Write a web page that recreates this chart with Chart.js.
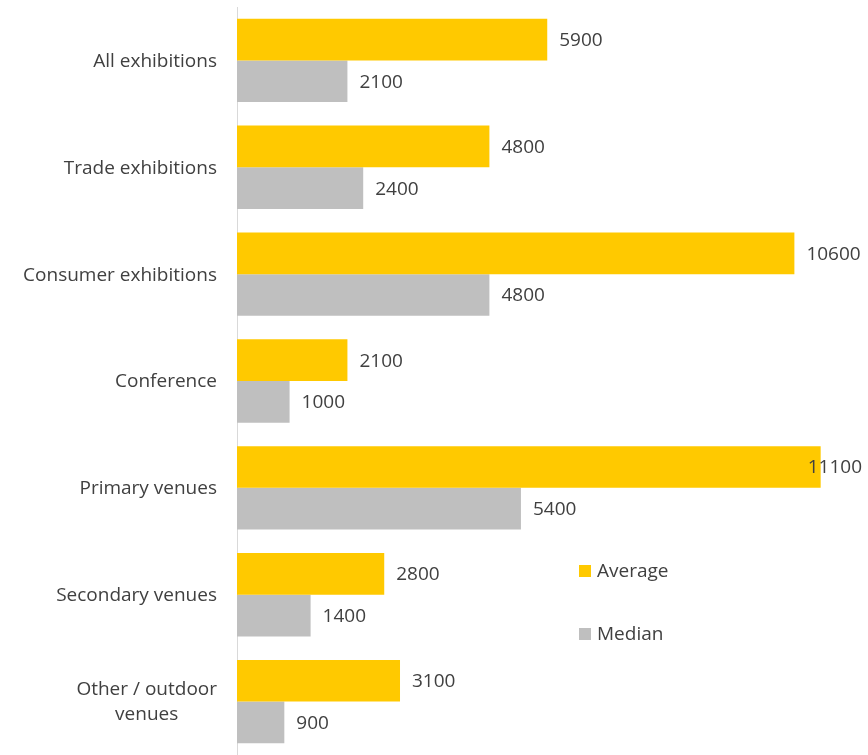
<!DOCTYPE html>
<html>
<head>
<meta charset="utf-8">
<script src="https://cdn.jsdelivr.net/npm/chart.js@4/dist/chart.umd.min.js"></script>
<style>
  html, body { margin: 0; padding: 0; background: #fff; }
  #wrap { position: relative; width: 868px; height: 755px; }
</style>
</head>
<body>
<div id="wrap"><canvas id="grafico"></canvas></div>
<script>
const categorias = [
  'All exhibitions',
  'Trade exhibitions',
  'Consumer exhibitions',
  'Conference',
  'Primary venues',
  'Secondary venues',
  ['Other / outdoor', 'venues'],
];
const valoresMedia = [5900, 4800, 10600, 2100, 11100, 2800, 3100];
const valoresMediana = [2100, 2400, 4800, 1000, 5400, 1400, 900];

const COR_MEDIA = '#FFC900';
const COR_MEDIANA = '#BFBFBF';
const COR_TEXTO = '#404040';
const FONTE = '"Open Sans", "Liberation Sans", sans-serif';
const TAM_FONTE = 19;

// rotulos de valor ao lado de cada barra; se nao couber, encosta na borda
const pluginRotulos = {
  id: 'rotulos',
  afterDatasetsDraw(chart) {
    const ctx = chart.ctx;
    ctx.save();
    ctx.font = TAM_FONTE + 'px ' + FONTE;
    ctx.fillStyle = COR_TEXTO;
    ctx.textBaseline = 'middle';
    ctx.textAlign = 'left';
    chart.data.datasets.forEach((ds, i) => {
      chart.getDatasetMeta(i).data.forEach((barra, j) => {
        const texto = String(ds.data[j]);
        const larg = ctx.measureText(texto).width;
        let x = barra.x + 12;
        if (x + larg > chart.width - 4) x = chart.width - 6 - larg;
        ctx.fillText(texto, x, barra.y + 1);
      });
    });
    ctx.restore();
  },
};

// nomes das categorias; linhas de um mesmo rotulo centralizadas entre si
const pluginCategorias = {
  id: 'categorias',
  afterDraw(chart) {
    const ctx = chart.ctx;
    const escala = chart.scales.y;
    const alturaLinha = 25;
    ctx.save();
    ctx.font = TAM_FONTE + 'px ' + FONTE;
    ctx.fillStyle = COR_TEXTO;
    ctx.textBaseline = 'middle';
    ctx.textAlign = 'center';
    chart.data.labels.forEach((rotulo, i) => {
      const linhas = Array.isArray(rotulo) ? rotulo : [rotulo];
      const larg = Math.max(...linhas.map((l) => ctx.measureText(l).width));
      const cx = escala.right - 20 - larg / 2;
      const y0 = escala.getPixelForTick(i) - ((linhas.length - 1) * alturaLinha) / 2;
      linhas.forEach((l, k) => ctx.fillText(l, cx, y0 + k * alturaLinha + 1));
    });
    ctx.restore();
  },
};

// legenda desenhada a direita, no meio do grafico
const pluginLegenda = {
  id: 'legendaLateral',
  afterDraw(chart) {
    const ctx = chart.ctx;
    ctx.save();
    ctx.font = TAM_FONTE + 'px ' + FONTE;
    ctx.textBaseline = 'middle';
    chart.data.datasets.forEach((ds, i) => {
      const y = 571 + i * 63;
      ctx.fillStyle = ds.backgroundColor;
      ctx.fillRect(579, y - 6, 12, 12);
      ctx.fillStyle = COR_TEXTO;
      ctx.fillText(ds.label, 597, y + 1);
    });
    ctx.restore();
  },
};

new Chart(document.getElementById('grafico'), {
  type: 'bar',
  data: {
    labels: categorias,
    datasets: [
      { label: 'Average', data: valoresMedia, backgroundColor: COR_MEDIA },
      { label: 'Median', data: valoresMediana, backgroundColor: COR_MEDIANA },
    ],
  },
  options: {
    indexAxis: 'y',
    responsive: true,
    maintainAspectRatio: false,
    animation: false,
    layout: { padding: { top: 7, bottom: -2, left: 0, right: 0 } },
    datasets: { bar: { categoryPercentage: 0.78, barPercentage: 1 } },
    plugins: {
      legend: { display: false },
      tooltip: { enabled: false },
    },
    scales: {
      x: {
        min: 0,
        max: 12000,
        display: false,
      },
      y: {
        grid: { display: false, drawTicks: false },
        border: { display: true, color: '#D9D9D9', width: 1 },
        ticks: { display: false },
        // largura fixa para a coluna dos nomes, sem folga em cima/embaixo
        afterFit(escala) {
          escala.paddingTop = 0;
          escala.paddingBottom = 0;
          escala.width = 237;
        },
      },
    },
  },
  plugins: [pluginRotulos, pluginCategorias, pluginLegenda],
});
</script>
</body>
</html>
